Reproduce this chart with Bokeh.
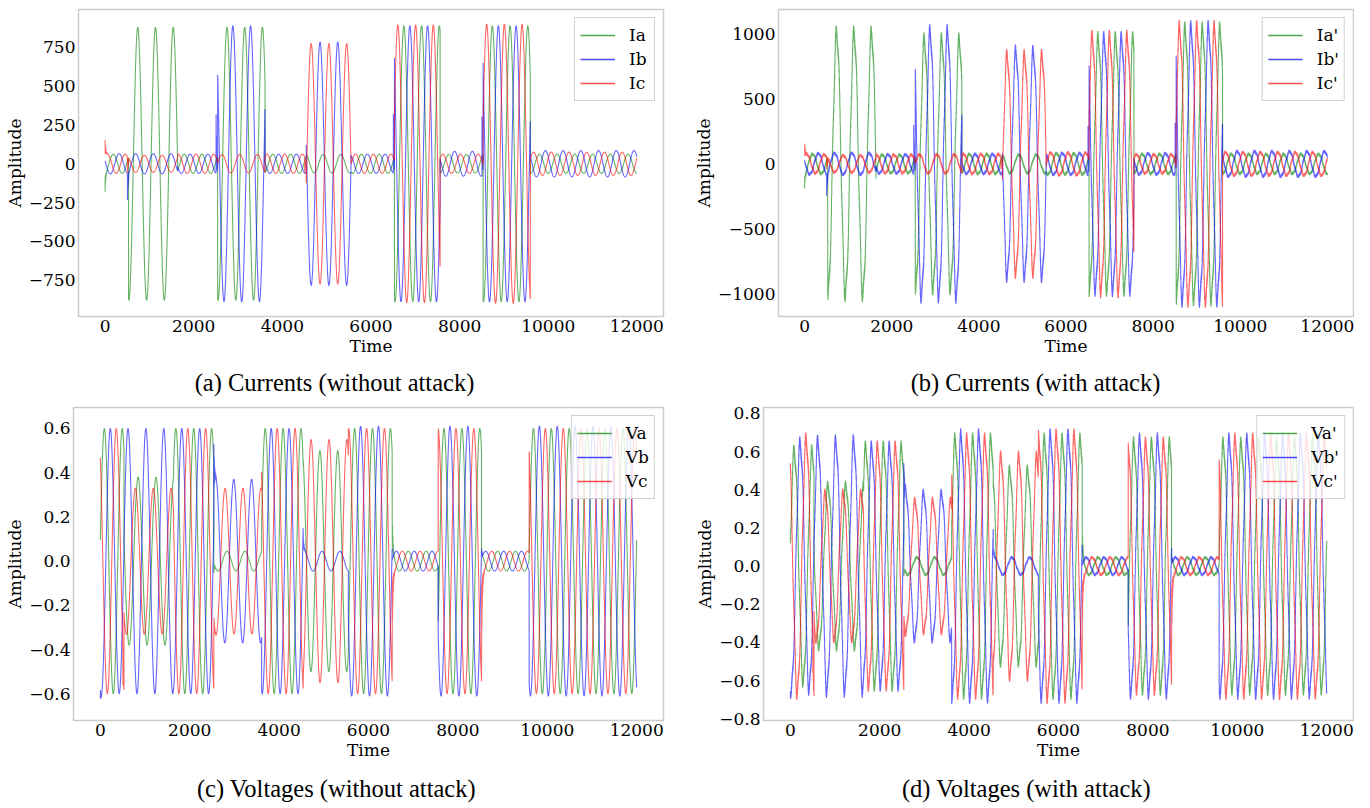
import numpy as np
from bokeh.plotting import figure
from bokeh.layouts import row, column
from bokeh.models import FixedTicker, CustomJSTickFormatter, Legend, LegendItem, Range1d
from bokeh.core.properties import value
from bokeh.embed import file_html
from bokeh.resources import INLINE

# ------------------------------------------------------------------
# Data: the signals are three-phase sinusoids
# (period ~400 samples) whose amplitude / phase change per segment.
# ------------------------------------------------------------------
PERIOD = 400.0
seg_bounds = [0, 530, 1640, 2540, 3610, 4540, 5550, 6530, 7560, 8530, 9595, 12001]

# currents without attack: amplitude per segment, and time of a peak (mod period)
ia_amp = [62, 880, 62, 880, 62, 60, 62, 890, 60, 890, 62]
ib_amp = [65, 65, 62, 890, 62, 785, 62, 890, 80, 890, 85]
ic_amp = [62, 55, 62, 60, 62, 775, 62, 895, 62, 900, 75]
ia_pk = [185, 337, 185, 350, 185, 120, 185, 342, 154, 338, 200]
ib_pk = [318, 288, 318, 83, 318, 50, 318, 77, 287, 74, 335]
ic_pk = [52, 88, 52, 237, 52, 250, 52, 206, 20, 210, 68]

# currents with attack
ia_amp_x = [75, 1000, 70, 950, 75, 70, 80, 960, 75, 1030, 75]
ib_amp_x = [80, 82, 72, 1010, 75, 860, 82, 960, 80, 1040, 95]
ic_amp_x = [72, 65, 70, 72, 75, 830, 85, 970, 72, 1040, 88]

# voltages without attack
va_amp = [0.6, 0.38, 0.6, 0.045, 0.6, 0.5, 0.6, 0.045, 0.6, 0.045, 0.6]
vb_amp = [0.6, 0.6, 0.6, 0.37, 0.6, 0.045, 0.61, 0.045, 0.61, 0.045, 0.61]
vc_amp = [0.6, 0.33, 0.6, 0.33, 0.6, 0.55, 0.6, 0.045, 0.6, 0.045, 0.6]
va_pk = [90, 45, 90, 35, 90, 112, 90, 90, 90, 90, 90]
vb_pk = [223, 220, 223, 185, 223, 160, 223, 223, 223, 223, 223]
vc_pk = [357, 385, 357, 392, 357, 316, 357, 357, 357, 357, 357]

# voltages with attack
va_amp_x = [0.6, 0.42, 0.62, 0.045, 0.66, 0.5, 0.66, 0.045, 0.64, 0.045, 0.64]
vb_amp_x = [0.64, 0.65, 0.62, 0.38, 0.68, 0.045, 0.68, 0.045, 0.66, 0.045, 0.66]
vc_amp_x = [0.66, 0.38, 0.62, 0.34, 0.66, 0.57, 0.68, 0.045, 0.64, 0.045, 0.66]

# attack distortion (ripple fraction, jitter fraction)
ATTACK_H5 = 0.06
ATTACK_NOISE = 0.025
NOISE_PER = 6.7

# switching transients: signal, phase index, start time, peak value
burst_sig = ["I", "I", "I", "I", "I", "I", "I", "I",
             "V", "V", "V", "V", "V", "V", "V", "V", "V", "V"]
burst_ph = [2, 0, 2, 1, 1, 2, 1, 1,
            1, 2, 1, 0, 2, 1, 2, 0, 2, 1]
burst_t = [0, 0, 505, 505, 2505, 4505, 6505, 8505,
           0, 505, 2540, 2540, 2540, 4540, 6530, 6530, 8530, 8530]
burst_amp = [110, -120, -100, -170, 380, -100, 380, 380,
             -0.06, -0.15, 0.25, -0.05, -0.1, 0.08, -0.35, 0.2, -0.4, 0.05]

time_ticks = [0, 2000, 4000, 6000, 8000, 10000, 12000]
i_ticks = [-750, -500, -250, 0, 250, 500, 750]
i_ticks_x = [-1000, -500, 0, 500, 1000]
v_ticks = [-0.6, -0.4, -0.2, 0.0, 0.2, 0.4, 0.6]
v_ticks_x = [-0.8, -0.6, -0.4, -0.2, 0.0, 0.2, 0.4, 0.6, 0.8]

captions_top = ["(a) Currents (without attack)", "(b) Currents (with attack)"]
captions_bottom = ["(c) Voltages (without attack)", "(d) Voltages (with attack)"]
labels_i = ["Ia", "Ib", "Ic"]
labels_ix = ["Ia'", "Ib'", "Ic'"]
labels_v = ["Va", "Vb", "Vc"]
labels_vx = ["Va'", "Vb'", "Vc'"]

COLORS = ["green", "blue", "red"]

t = np.arange(0, 12001, 1.0)


def wave(amps, peaks, attack, floor, sig, ph):
    y = np.zeros_like(t)
    for k in range(len(amps)):
        m = (t >= seg_bounds[k]) & (t < seg_bounds[k + 1])
        th = 2 * np.pi * (t[m] - peaks[k]) / PERIOD
        a = amps[k]
        yy = a * np.cos(th)
        if attack:
            yy = yy - ATTACK_H5 * a * np.sin(5 * th) \
                + (ATTACK_NOISE * a + floor) * np.sin(2 * np.pi * t[m] / NOISE_PER)
        y[m] = yy
    for s, p_, t0, a in zip(burst_sig, burst_ph, burst_t, burst_amp):
        if s == sig and p_ == ph:
            m = (t >= t0) & (t < t0 + 90)
            dt = t[m] - t0
            y[m] += a * np.exp(-dt / 18.0) * (0.6 + 0.4 * np.cos(2 * np.pi * dt / 8.0))
    return y


def make_fig(w, h, mbl, mbr, mbt, mbb, yr, yticks, ydec, series, labels):
    p = figure(width=w, height=h, output_backend="svg", toolbar_location=None,
               x_range=Range1d(-600, 12600), y_range=Range1d(*yr),
               min_border_left=mbl, min_border_right=mbr,
               min_border_top=mbt, min_border_bottom=mbb)
    p.background_fill_color = "white"
    p.border_fill_color = "white"
    p.outline_line_color = "#cccccc"
    p.outline_line_width = 1.5
    p.xgrid.visible = False
    p.ygrid.visible = False
    p.xaxis.ticker = FixedTicker(ticks=time_ticks)
    p.yaxis.ticker = FixedTicker(ticks=yticks)
    p.yaxis.formatter = CustomJSTickFormatter(
        code="var s = tick.toFixed(%d); if (s.charAt(0) == '-') { s = '\u2212' + s.slice(1); } return s;" % ydec)
    p.xaxis.axis_label = "Time"
    p.yaxis.axis_label = "Amplitude"
    p.axis.axis_line_color = None
    p.axis.major_tick_line_color = None
    p.axis.minor_tick_line_color = None
    p.axis.major_tick_in = 0
    p.axis.major_tick_out = 0
    p.axis.major_label_text_font = "DejaVu Serif"
    p.axis.major_label_text_font_size = "17px"
    p.axis.major_label_text_color = "black"
    p.axis.axis_label_text_font = "DejaVu Serif"
    p.axis.axis_label_text_font_size = "17px"
    p.axis.axis_label_text_font_style = "normal"
    p.axis.axis_label_text_color = "black"
    p.axis.major_label_standoff = 3
    p.axis.axis_label_standoff = 1
    items = []
    for y, c, lab in zip(series, COLORS, labels):
        p.line(t, y, line_color=c, line_width=1.1, line_alpha=0.6)
        # legend key: a sample line drawn far outside the visible range
        key = p.line([-1e6, -1e6 + 1], [0, 0], line_color=c, line_width=1.4, line_alpha=0.7)
        items.append(LegendItem(label=lab, renderers=[key]))
    leg = Legend(items=items, location="top_right")
    leg.label_text_font = "DejaVu Serif"
    leg.label_text_font_size = "17px"
    leg.label_text_color = "black"
    leg.glyph_width = 35
    leg.glyph_height = 24
    leg.label_height = 24
    leg.spacing = 0
    leg.padding = 5
    leg.margin = 8
    leg.label_standoff = 14
    leg.border_line_color = "#cccccc"
    leg.border_line_alpha = 0.9
    leg.background_fill_alpha = 0.8
    p.add_layout(leg)
    return p


def caption_fig(w, h, xs, y, texts):
    c = figure(width=w, height=h, output_backend="svg", toolbar_location=None,
               x_range=Range1d(0, w), y_range=Range1d(0, h),
               x_axis_type=None, y_axis_type=None,
               min_border_left=0, min_border_right=0, min_border_top=0, min_border_bottom=0)
    c.outline_line_color = None
    c.xgrid.visible = False
    c.ygrid.visible = False
    c.background_fill_color = "white"
    c.border_fill_color = "white"
    c.text(x=xs, y=[y] * len(texts), text=texts, text_align="center", text_baseline="alphabetic",
           text_font=value("Liberation Serif"), text_font_size=value("24.5px"), text_color="black")
    return c


cur = [wave(ia_amp, ia_pk, False, 0, "I", 0), wave(ib_amp, ib_pk, False, 0, "I", 1),
       wave(ic_amp, ic_pk, False, 0, "I", 2)]
cur_x = [wave(ia_amp_x, ia_pk, True, 8, "I", 0), wave(ib_amp_x, ib_pk, True, 8, "I", 1),
         wave(ic_amp_x, ic_pk, True, 8, "I", 2)]
vol = [wave(va_amp, va_pk, False, 0, "V", 0), wave(vb_amp, vb_pk, False, 0, "V", 1),
       wave(vc_amp, vc_pk, False, 0, "V", 2)]
vol_x = [wave(va_amp_x, va_pk, True, 0.005, "V", 0), wave(vb_amp_x, vb_pk, True, 0.005, "V", 1),
         wave(vc_amp_x, vc_pk, True, 0.005, "V", 2)]

pa = make_fig(690, 366, 78, 27, 9, 50, (-985, 995), i_ticks, 0, cur, labels_i)
pb = make_fig(664, 366, 88, 1, 9, 50, (-1171, 1185), i_ticks_x, 0, cur_x, labels_ix)
cap1 = caption_fig(1354, 36, [334, 1035], 20, captions_top)
pc = make_fig(692, 368, 73, 29, 5, 50, (-0.721, 0.695), v_ticks, 1, vol, labels_v)
pd = make_fig(662, 368, 71, 1, 5, 50, (-0.809, 0.831), v_ticks_x, 1, vol_x, labels_vx)
cap2 = caption_fig(1354, 38, [336, 1026], 20, captions_bottom)

layout = column(row(pa, pb), cap1, row(pc, pd), cap2)
open("out.html", "w").write(file_html(layout, INLINE))
